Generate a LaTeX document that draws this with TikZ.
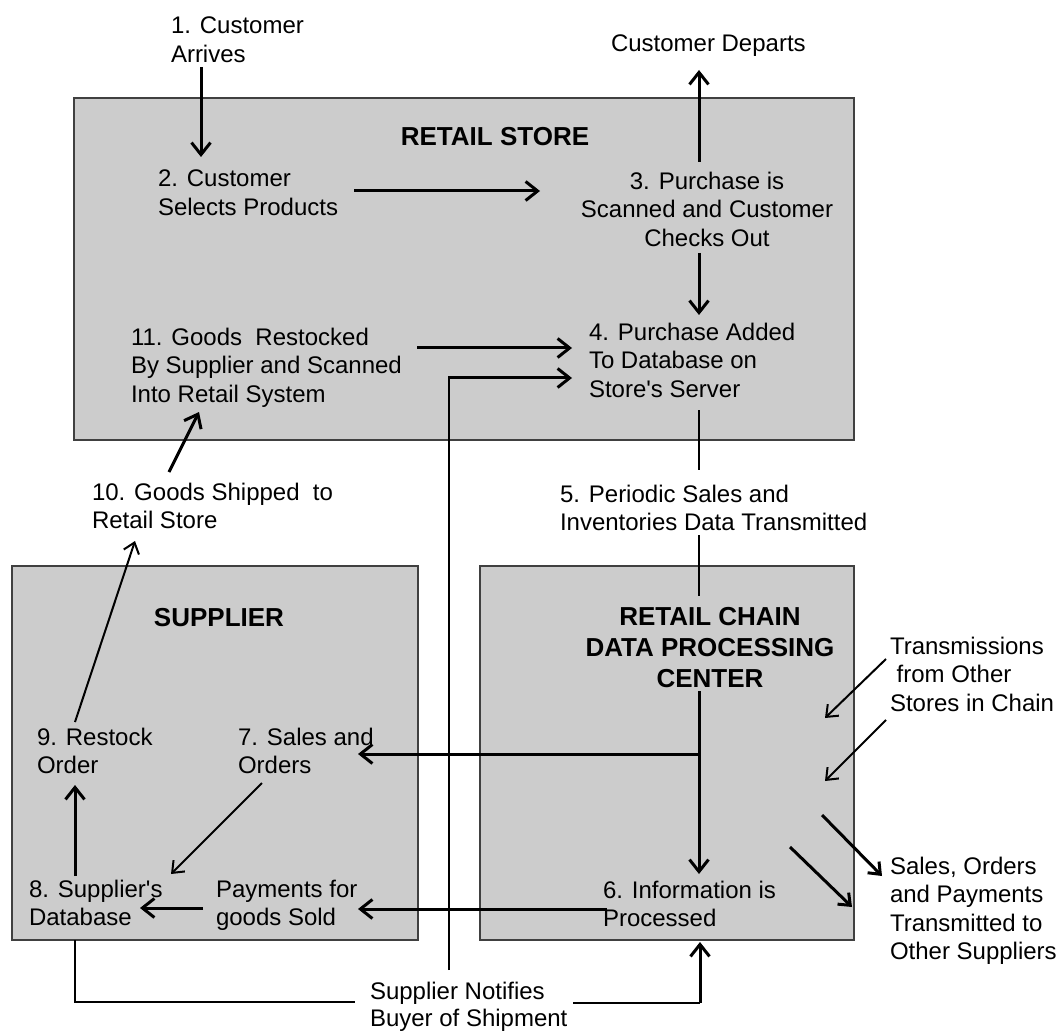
\documentclass[tikz,border=0pt]{standalone}
\usepackage{fontspec}
\newfontfamily\labelfont{Liberation Sans}
\usetikzlibrary{arrows.meta,calc}
\begin{document}
\begin{tikzpicture}[x=1pt,y=-1pt,
  lbl/.style={font=\labelfont\fontsize{24}{28.5}\selectfont, inner sep=0pt, outer sep=0pt, align=left, anchor=north west, text=black},
  ttl/.style={font=\labelfont\bfseries\fontsize{26}{31}\selectfont, inner sep=0pt, outer sep=0pt, align=center, text=black},
  area/.style={draw=black!75, fill=black!20, line width=2pt, inner sep=0pt, outer sep=0pt, anchor=north west},
  heavy/.style={line width=3pt},
  medium/.style={line width=2pt},
  light/.style={line width=1.3pt},
  tip/.style={-{Straight Barb[length=12pt,width=19pt]}},
  smalltip/.style={-{Straight Barb[length=10pt,width=16pt]}}
]
\useasboundingbox (0,0) rectangle (1058,1032);

% the three organisations
\node[area, minimum width=780pt, minimum height=342pt] (store) at (74,98) {};
\node[area, minimum width=406pt, minimum height=374pt] (supplier) at (12,566) {};
\node[area, minimum width=374pt, minimum height=374pt] (dpc) at (480,566) {};

\node[ttl] (tstore) at (495,137) {RETAIL STORE};
\node[ttl] (tsup) at (219,618) {SUPPLIER};
\node[ttl, anchor=north] (tdpc) at (710,607) {RETAIL CHAIN\\DATA PROCESSING\\CENTER};

% process steps
\node[lbl] (n1) at (171,17) {1. Customer\\Arrives};
\node[lbl] (ndep) at (611,35) {Customer Departs};
\node[lbl] (n2) at (158,170) {2. Customer\\Selects Products};
\node[lbl, anchor=north, align=center] (n3) at (707,172) {3. Purchase is\\Scanned and Customer\\Checks Out};
\node[lbl] (n11) at (131,328) {11. Goods~ Restocked\\By Supplier and Scanned\\Into Retail System};
\node[lbl] (n4) at (589,323) {4. Purchase Added\\To Database on\\Store's Server};
\node[lbl] (n5) at (560,485) {5. Periodic Sales and\\Inventories Data Transmitted};
\node[lbl] (n10) at (92,483) {10. Goods Shipped~ to\\Retail Store};
\node[lbl] (n9) at (37,728) {9. Restock\\Order};
\node[lbl] (n7) at (238,728) {7. Sales and\\Orders};
\node[lbl] (n8) at (29,880) {8. Supplier's\\Database};
\node[lbl] (npay) at (216,880) {Payments for\\goods Sold};
\node[lbl] (n6) at (603,881) {6. Information is\\Processed};
\node[lbl] (ntr) at (890,637) {Transmissions\\\ from Other\\Stores in Chain};
\node[lbl] (nso) at (890,857) {Sales, Orders\\and Payments\\Transmitted to\\Other Suppliers};
\node[lbl, font=\labelfont\fontsize{24}{27}\selectfont] (nsn) at (370,982) {Supplier Notifies\\Buyer of Shipment};

% customer flow in the store
\draw[heavy, tip] ([shift={(30,50)}]n1.north west) -- ([shift={(43,-13)}]n2.north west);
\draw[heavy, tip] ([shift={(196,21)}]n2.north west) -- ([shift={(-167,19)}]n3.north);
\draw[heavy, tip] ([shift={(-8,-10)}]n3.north) -- ([shift={(88,35)}]ndep.north west);
\draw[heavy, tip] ([shift={(-8,81)}]n3.north) -- ([shift={(110,-8)}]n4.north west);
\draw[heavy, tip] ([shift={(286,20)}]n11.north west) -- ([shift={(-17,25)}]n4.north west);

% store server to the data processing center
\draw[light] ([shift={(110,87)}]n4.north west) -- ([shift={(139,-15)}]n5.north west);
\draw[light] ([shift={(139,50)}]n5.north west) -- ([shift={(-11,-11)}]tdpc.north);

% processing and distribution
\coordinate (branch) at ([shift={(96,-127)}]n6.north west);
\draw[heavy, tip] ([shift={(-11,84)}]tdpc.north) -- ([shift={(96,-7)}]n6.north west);
\draw[heavy, tip] (branch) -- ([shift={(120,26)}]n7.north west);
\draw[heavy, tip] ([shift={(4,28)}]n6.north west) -- ([shift={(142,29)}]npay.north west);

% inside the supplier
\draw[heavy, tip] ([shift={(-13,28)}]npay.north west) -- ([shift={(111,28)}]n8.north west);
\draw[heavy, tip] ([shift={(46,-4)}]n8.north west) -- ([shift={(38,57)}]n9.north west);
\draw[medium, smalltip] ([shift={(24,55)}]n7.north west) -- ([shift={(142,-6)}]n8.north west);
\draw[medium, smalltip] ([shift={(38,-6)}]n9.north west) -- ([shift={(43,58)}]n10.north west);
\draw[heavy, tip] ([shift={(77,-11)}]n10.north west) -- ([shift={(68,84)}]n11.north west);

% other stores and other suppliers
\draw[medium, smalltip] ([shift={(-4,22)}]ntr.north west) -- ([shift={(345,152)}]dpc.north west);
\draw[medium, smalltip] ([shift={(-4,83)}]ntr.north west) -- ([shift={(345,215)}]dpc.north west);
\draw[heavy, smalltip] ([shift={(342,249)}]dpc.north west) -- ([shift={(-8,19)}]nso.north west);
\draw[heavy, smalltip] ([shift={(310,281)}]dpc.north west) -- ([shift={(-38,50)}]nso.north west);

% shipment notification
\coordinate (notecorner) at ([shift={(97,122)}]n6.north west);
\draw[light] ([shift={(46,60)}]n8.north west) |- ([shift={(-15,20)}]nsn.north west);
\draw[light] ([shift={(203,21)}]nsn.north west) -- (notecorner);
\draw[heavy, tip] (notecorner) -- ([shift={(97,61)}]n6.north west);
\draw[light] ([shift={(79,-12)}]nsn.north west) -- ([shift={(79,-604)}]nsn.north west);
\draw[heavy, tip] ([shift={(78,-604)}]nsn.north west) -- ([shift={(-17,55)}]n4.north west);
\end{tikzpicture}
\end{document}
